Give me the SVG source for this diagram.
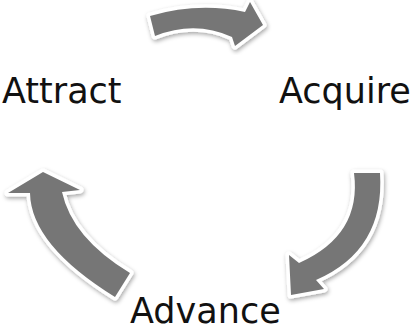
<svg xmlns="http://www.w3.org/2000/svg" width="416" height="330" viewBox="0 0 416 330">
<defs>
<filter id="sh" x="-20%" y="-20%" width="140%" height="140%">
<feDropShadow dx="1" dy="2" stdDeviation="2" flood-color="#000" flood-opacity="0.35"/>
</filter>
</defs>
<style>
.arr{fill:#767676;stroke:#fff;stroke-width:7;stroke-linejoin:round;paint-order:stroke;filter:url(#sh)}
.lbl{font-family:"DejaVu Sans",Verdana,sans-serif;font-size:35px;fill:#111}
</style>
<rect width="416" height="330" fill="#fff"/>
<g id="connectors">
<path class="arr" d="M150,16 Q198,2 245,12 L250,2 L263,25 L235,46 L232,37 Q195,20 155,36 Z"/>
<path class="arr" d="M354,173 L380,173 Q385,250 316,280 L324,289 L291,295 L289,255 L299,263 Q362,235 354,173 Z"/>
<path class="arr" d="M43,172 L80,190 L62,192 Q72,238 130,273 L115,297 Q31,245 30,193 L8,193 Z"/>
</g>
<g id="attract"><text class="lbl" x="2" y="103">Attract</text></g>
<g id="acquire"><text class="lbl" x="279" y="103">Acquire</text></g>
<g id="advance"><text class="lbl" x="130" y="323">Advance</text></g>
</svg>
